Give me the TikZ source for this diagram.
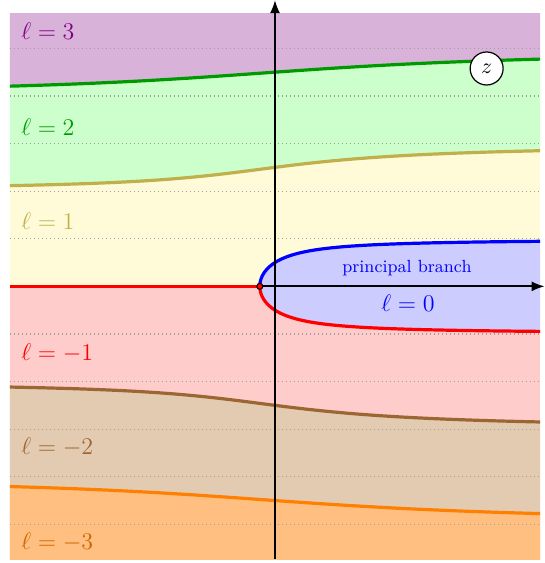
\documentclass[tikz,border=0pt]{standalone}
\usetikzlibrary{arrows.meta}
\definecolor{yellowfill}{RGB}{255,250,215}
\definecolor{brownfill}{RGB}{227,203,178}
\definecolor{oliveline}{RGB}{191,176,76}
\definecolor{brownline}{RGB}{156,102,51}
\definecolor{greenline}{RGB}{0,153,0}
\definecolor{orangeline}{RGB}{255,128,0}
\definecolor{orangelabel}{RGB}{204,102,0}
\begin{document}
\begin{tikzpicture}[x=7.575pt,y=7.575pt,
  curve/.style={line width=1.6pt},
  gridline/.style={gray!75,line width=0.6pt,dash pattern=on 0.6pt off 1.4pt},
  axis/.style={line width=1pt,-{Latex[length=6.5pt,width=5pt]}},
  lab/.style={anchor=west,inner sep=0pt,font=\fontsize{11.8}{14}\selectfont}]
\useasboundingbox (-18.15,-18.26) rectangle (17.76,18.90);
\begin{scope}
  \clip (-17.5,-18) rectangle (17.5,18);
  % upper half
  \fill[yellowfill] (-17.5,0) rectangle (17.5,18);
  \fill[green!20] plot[domain=6.583:9.225,samples=150] ({-\x*cot(\x r)},\x) -- (60,30) -- (-60,30) -- cycle;
  \fill[violet!30] plot[domain=13.066:15.308,samples=150] ({-\x*cot(\x r)},\x) -- (60,30) -- (-60,30) -- cycle;
  % lower half
  \fill[red!20] (-17.5,-18) rectangle (17.5,0);
  \fill[brownfill] plot[domain=6.583:9.225,samples=150] ({-\x*cot(\x r)},-\x) -- (60,-30) -- (-60,-30) -- cycle;
  \fill[orange!50] plot[domain=13.066:15.308,samples=150] ({-\x*cot(\x r)},-\x) -- (60,-30) -- (-60,-30) -- cycle;
  % principal branch
  \fill[blue!20] plot[domain=0.01:3.0,samples=150] ({-\x*cot(\x r)},\x) -- plot[domain=3.0:0.01,samples=150] ({-\x*cot(\x r)},-\x) -- cycle;
  % grid lines
  \foreach \k in {1,...,5} {
    \draw[gridline] (-17.5,\k*3.14159) -- (17.5,\k*3.14159);
    \draw[gridline] (-17.5,-\k*3.14159) -- (17.5,-\k*3.14159);
  }
  % boundary curves
  \draw[curve,greenline] plot[domain=13.066:15.308,samples=150] ({-\x*cot(\x r)},\x);
  \draw[curve,oliveline] plot[domain=6.583:9.225,samples=150] ({-\x*cot(\x r)},\x);
  \draw[curve,blue] plot[domain=0.01:3.0,samples=150] ({-\x*cot(\x r)},\x);
  \draw[curve,red] plot[domain=0.01:3.0,samples=150] ({-\x*cot(\x r)},-\x);
  \draw[curve,brownline] plot[domain=6.583:9.225,samples=150] ({-\x*cot(\x r)},-\x);
  \draw[curve,orangeline] plot[domain=13.066:15.308,samples=150] ({-\x*cot(\x r)},-\x);
\end{scope}
% axes
\coordinate (xs) at (-17.5,0);
\coordinate (xe) at (17.8,0);
\coordinate (ys) at (0,-18);
\coordinate (ye) at (0,18.9);
\draw[axis] (xs) -- (xe);
\draw[axis] (ys) -- (ye);
% branch cut
\coordinate (bp) at (-1,0);
\draw[curve,red] (xs) -- (bp);
\fill[red,draw=black,line width=0.5pt] (bp) circle (0.2);
% labels
\node[lab,violet] (l3) at (-16.77,16.85) {$\ell=3$};
\node[lab,greenline] (l2) at (-16.77,10.5) {$\ell=2$};
\node[lab,oliveline] (l1) at (-16.77,4.31) {$\ell=1$};
\node[lab,red] (lm1) at (-16.77,-4.39) {$\ell=-1$};
\node[lab,brownline] (lm2) at (-16.77,-10.6) {$\ell=-2$};
\node[lab,orangelabel] (lm3) at (-16.77,-16.9) {$\ell=-3$};
\node[blue,inner sep=0pt,font=\fontsize{8.8}{10}\selectfont] (pb) at (8.71,1.21) {principal branch};
\node[blue,inner sep=0pt,font=\fontsize{12.5}{15}\selectfont] (l0) at (8.78,-1.1) {$\ell=0$};
\node[circle,draw,fill=white,line width=0.6pt,minimum size=16.5pt,inner sep=0pt,font=\fontsize{11}{13}\selectfont] (z) at (13.97,14.38) {$z$};
\end{tikzpicture}
\end{document}
